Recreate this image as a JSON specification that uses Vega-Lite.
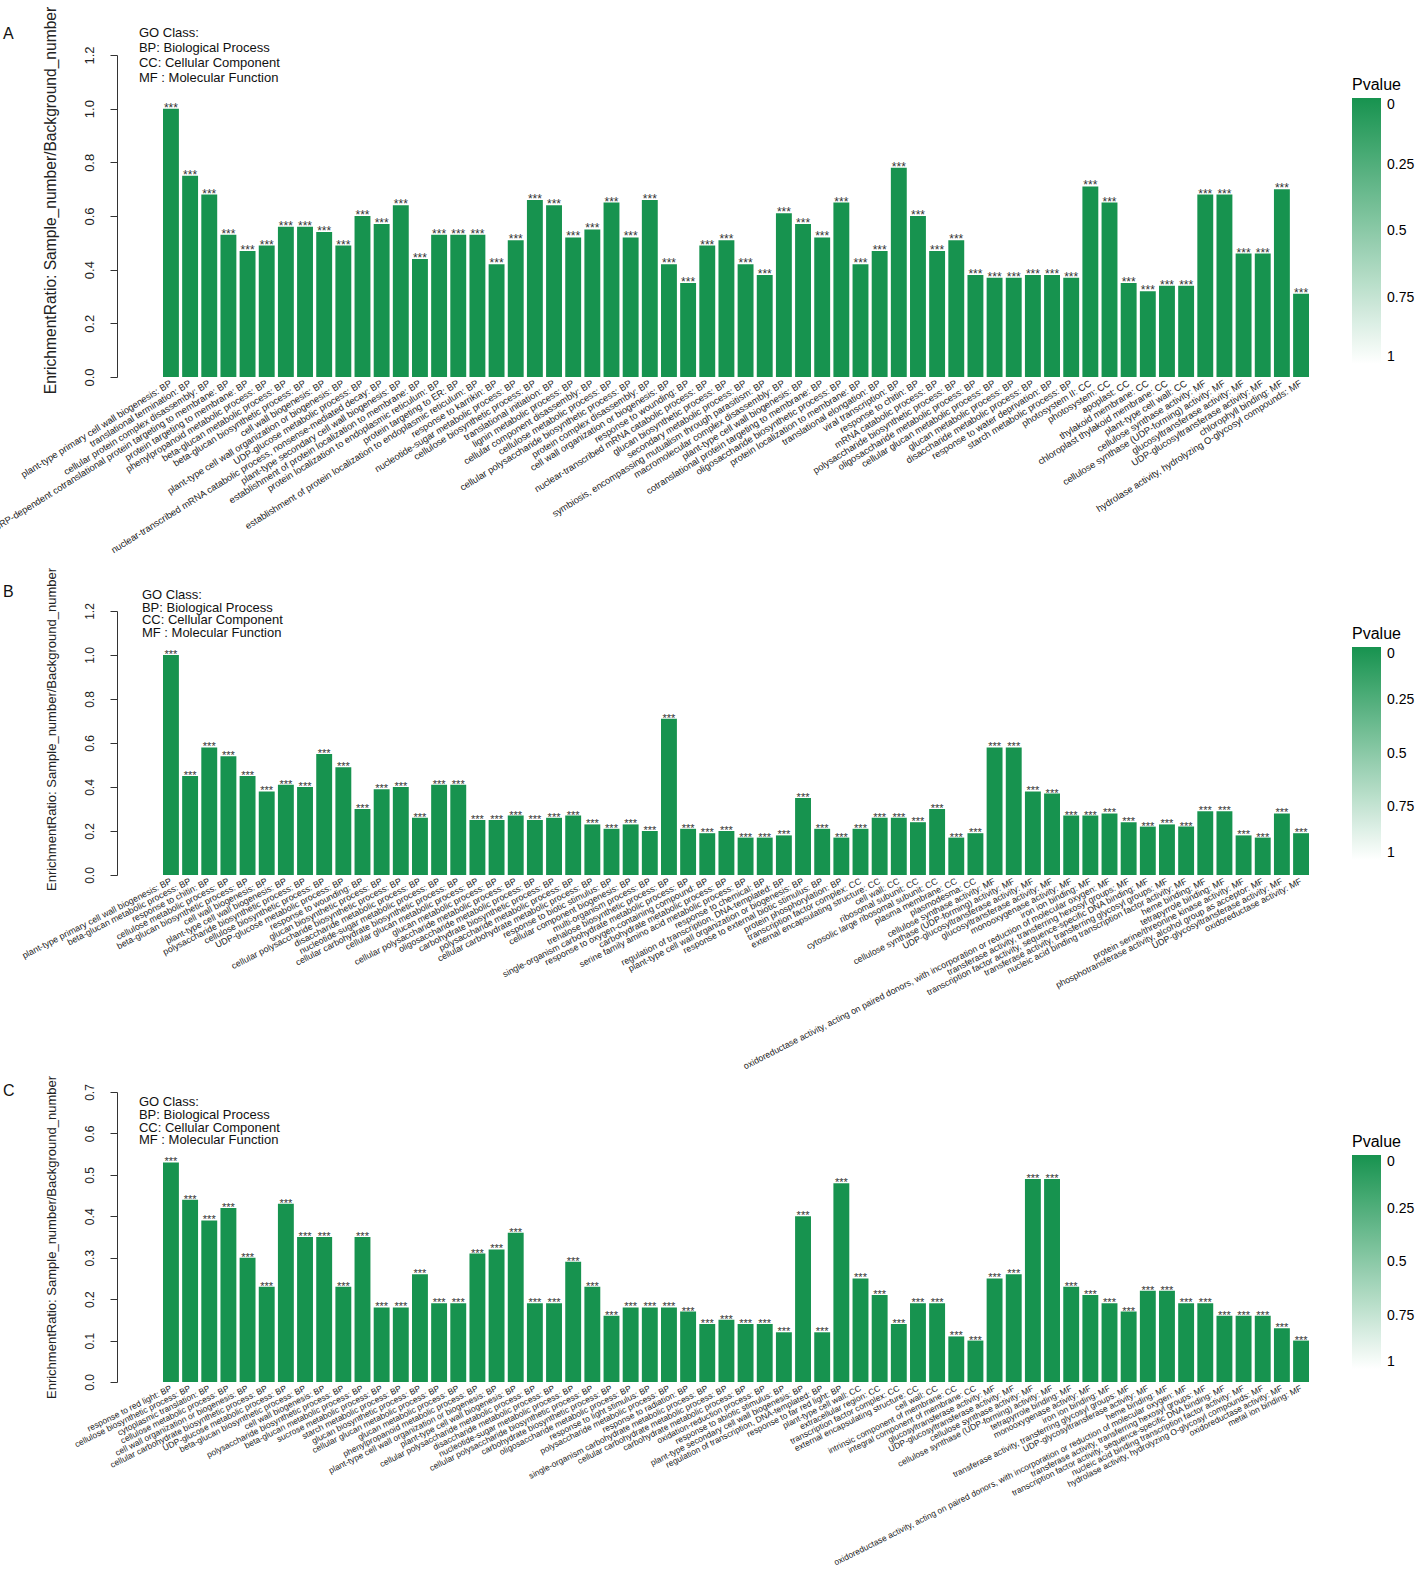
{
  "$schema": "https://vega.github.io/schema/vega-lite/v6.json",
  "background": "white",
  "autosize": {"type": "none"},
  "padding": {"top": 55, "left": 163, "right": 1255, "bottom": 1519},
  "config": {
    "font": "Liberation Sans",
    "view": {"stroke": null},
    "axis": {"grid": false, "labelColor": "#222", "titleColor": "#222", "domainColor": "#333", "tickColor": "#333"},
    "title": {"fontWeight": "normal", "color": "#111"}
  },
  "bounds": "flush",
  "spacing": 217,
  "resolve": {"scale": {"x": "independent", "y": "independent", "color": "independent"}, "legend": {"color": "independent"}},
  "datasets": {
    "A": [
      {"label": "plant-type primary cell wall biogenesis: BP", "ratio": 1.00, "p": 0},
      {"label": "translational termination: BP", "ratio": 0.75, "p": 0},
      {"label": "cellular protein complex disassembly: BP", "ratio": 0.68, "p": 0},
      {"label": "SRP-dependent cotranslational protein targeting to membrane: BP", "ratio": 0.53, "p": 0},
      {"label": "protein targeting to membrane: BP", "ratio": 0.47, "p": 0},
      {"label": "phenylpropanoid metabolic process: BP", "ratio": 0.49, "p": 0},
      {"label": "beta-glucan metabolic process: BP", "ratio": 0.56, "p": 0},
      {"label": "beta-glucan biosynthetic process: BP", "ratio": 0.56, "p": 0},
      {"label": "cell wall biogenesis: BP", "ratio": 0.54, "p": 0},
      {"label": "plant-type cell wall organization or biogenesis: BP", "ratio": 0.49, "p": 0},
      {"label": "UDP-glucose metabolic process: BP", "ratio": 0.60, "p": 0},
      {"label": "nuclear-transcribed mRNA catabolic process, nonsense-mediated decay: BP", "ratio": 0.57, "p": 0},
      {"label": "plant-type secondary cell wall biogenesis: BP", "ratio": 0.64, "p": 0},
      {"label": "establishment of protein localization to membrane: BP", "ratio": 0.44, "p": 0},
      {"label": "protein localization to endoplasmic reticulum: BP", "ratio": 0.53, "p": 0},
      {"label": "protein targeting to ER: BP", "ratio": 0.53, "p": 0},
      {"label": "establishment of protein localization to endoplasmic reticulum: BP", "ratio": 0.53, "p": 0},
      {"label": "response to karrikin: BP", "ratio": 0.42, "p": 0},
      {"label": "nucleotide-sugar metabolic process: BP", "ratio": 0.51, "p": 0},
      {"label": "cellulose biosynthetic process: BP", "ratio": 0.66, "p": 0},
      {"label": "translational initiation: BP", "ratio": 0.64, "p": 0},
      {"label": "lignin metabolic process: BP", "ratio": 0.52, "p": 0},
      {"label": "cellular component disassembly: BP", "ratio": 0.55, "p": 0},
      {"label": "cellulose metabolic process: BP", "ratio": 0.65, "p": 0},
      {"label": "cellular polysaccharide biosynthetic process: BP", "ratio": 0.52, "p": 0},
      {"label": "protein complex disassembly: BP", "ratio": 0.66, "p": 0},
      {"label": "cell wall organization or biogenesis: BP", "ratio": 0.42, "p": 0},
      {"label": "response to wounding: BP", "ratio": 0.35, "p": 0},
      {"label": "nuclear-transcribed mRNA catabolic process: BP", "ratio": 0.49, "p": 0},
      {"label": "glucan biosynthetic process: BP", "ratio": 0.51, "p": 0},
      {"label": "secondary metabolic process: BP", "ratio": 0.42, "p": 0},
      {"label": "symbiosis, encompassing mutualism through parasitism: BP", "ratio": 0.38, "p": 0},
      {"label": "macromolecular complex disassembly: BP", "ratio": 0.61, "p": 0},
      {"label": "plant-type cell wall biogenesis: BP", "ratio": 0.57, "p": 0},
      {"label": "cotranslational protein targeting to membrane: BP", "ratio": 0.52, "p": 0},
      {"label": "oligosaccharide biosynthetic process: BP", "ratio": 0.65, "p": 0},
      {"label": "protein localization to membrane: BP", "ratio": 0.42, "p": 0},
      {"label": "translational elongation: BP", "ratio": 0.47, "p": 0},
      {"label": "viral transcription: BP", "ratio": 0.78, "p": 0},
      {"label": "response to chitin: BP", "ratio": 0.60, "p": 0},
      {"label": "mRNA catabolic process: BP", "ratio": 0.47, "p": 0},
      {"label": "polysaccharide biosynthetic process: BP", "ratio": 0.51, "p": 0},
      {"label": "oligosaccharide metabolic process: BP", "ratio": 0.38, "p": 0},
      {"label": "cellular glucan metabolic process: BP", "ratio": 0.37, "p": 0},
      {"label": "glucan metabolic process: BP", "ratio": 0.37, "p": 0},
      {"label": "disaccharide metabolic process: BP", "ratio": 0.38, "p": 0},
      {"label": "response to water deprivation: BP", "ratio": 0.38, "p": 0},
      {"label": "starch metabolic process: BP", "ratio": 0.37, "p": 0},
      {"label": "photosystem II: CC", "ratio": 0.71, "p": 0},
      {"label": "photosystem: CC", "ratio": 0.65, "p": 0},
      {"label": "apoplast: CC", "ratio": 0.35, "p": 0},
      {"label": "thylakoid membrane: CC", "ratio": 0.32, "p": 0},
      {"label": "chloroplast thylakoid membrane: CC", "ratio": 0.34, "p": 0},
      {"label": "plant-type cell wall: CC", "ratio": 0.34, "p": 0},
      {"label": "cellulose synthase activity: MF", "ratio": 0.68, "p": 0},
      {"label": "cellulose synthase (UDP-forming) activity: MF", "ratio": 0.68, "p": 0},
      {"label": "glucosyltransferase activity: MF", "ratio": 0.46, "p": 0},
      {"label": "UDP-glucosyltransferase activity: MF", "ratio": 0.46, "p": 0},
      {"label": "chlorophyll binding: MF", "ratio": 0.70, "p": 0},
      {"label": "hydrolase activity, hydrolyzing O-glycosyl compounds: MF", "ratio": 0.31, "p": 0}
    ],
    "B": [
      {"label": "plant-type primary cell wall biogenesis: BP", "ratio": 1.00, "p": 0},
      {"label": "beta-glucan metabolic process: BP", "ratio": 0.45, "p": 0},
      {"label": "response to chitin: BP", "ratio": 0.58, "p": 0},
      {"label": "cellulose metabolic process: BP", "ratio": 0.54, "p": 0},
      {"label": "beta-glucan biosynthetic process: BP", "ratio": 0.45, "p": 0},
      {"label": "cell wall biogenesis: BP", "ratio": 0.38, "p": 0},
      {"label": "plant-type cell wall biogenesis: BP", "ratio": 0.41, "p": 0},
      {"label": "polysaccharide biosynthetic process: BP", "ratio": 0.40, "p": 0},
      {"label": "cellulose biosynthetic process: BP", "ratio": 0.55, "p": 0},
      {"label": "UDP-glucose metabolic process: BP", "ratio": 0.49, "p": 0},
      {"label": "response to wounding: BP", "ratio": 0.30, "p": 0},
      {"label": "glucan biosynthetic process: BP", "ratio": 0.39, "p": 0},
      {"label": "cellular polysaccharide biosynthetic process: BP", "ratio": 0.40, "p": 0},
      {"label": "disaccharide metabolic process: BP", "ratio": 0.26, "p": 0},
      {"label": "nucleotide-sugar metabolic process: BP", "ratio": 0.41, "p": 0},
      {"label": "cellular carbohydrate biosynthetic process: BP", "ratio": 0.41, "p": 0},
      {"label": "cellular glucan metabolic process: BP", "ratio": 0.25, "p": 0},
      {"label": "glucan metabolic process: BP", "ratio": 0.25, "p": 0},
      {"label": "cellular polysaccharide metabolic process: BP", "ratio": 0.27, "p": 0},
      {"label": "oligosaccharide metabolic process: BP", "ratio": 0.25, "p": 0},
      {"label": "carbohydrate biosynthetic process: BP", "ratio": 0.26, "p": 0},
      {"label": "polysaccharide metabolic process: BP", "ratio": 0.27, "p": 0},
      {"label": "cellular carbohydrate metabolic process: BP", "ratio": 0.23, "p": 0},
      {"label": "response to biotic stimulus: BP", "ratio": 0.21, "p": 0},
      {"label": "cellular component biogenesis: BP", "ratio": 0.23, "p": 0},
      {"label": "multi-organism process: BP", "ratio": 0.20, "p": 0},
      {"label": "trehalose biosynthetic process: BP", "ratio": 0.71, "p": 0},
      {"label": "single-organism carbohydrate metabolic process: BP", "ratio": 0.21, "p": 0},
      {"label": "response to oxygen-containing compound: BP", "ratio": 0.19, "p": 0},
      {"label": "carbohydrate metabolic process: BP", "ratio": 0.20, "p": 0},
      {"label": "serine family amino acid metabolic process: BP", "ratio": 0.17, "p": 0},
      {"label": "response to chemical: BP", "ratio": 0.17, "p": 0},
      {"label": "regulation of transcription, DNA-templated: BP", "ratio": 0.18, "p": 0},
      {"label": "plant-type cell wall organization or biogenesis: BP", "ratio": 0.35, "p": 0},
      {"label": "response to external biotic stimulus: BP", "ratio": 0.21, "p": 0},
      {"label": "protein phosphorylation: BP", "ratio": 0.17, "p": 0},
      {"label": "transcription factor complex: CC", "ratio": 0.21, "p": 0},
      {"label": "external encapsulating structure: CC", "ratio": 0.26, "p": 0},
      {"label": "cell wall: CC", "ratio": 0.26, "p": 0},
      {"label": "ribosomal subunit: CC", "ratio": 0.24, "p": 0},
      {"label": "cytosolic large ribosomal subunit: CC", "ratio": 0.30, "p": 0},
      {"label": "plasma membrane: CC", "ratio": 0.17, "p": 0},
      {"label": "plasmodesma: CC", "ratio": 0.19, "p": 0},
      {"label": "cellulose synthase activity: MF", "ratio": 0.58, "p": 0},
      {"label": "cellulose synthase (UDP-forming) activity: MF", "ratio": 0.58, "p": 0},
      {"label": "UDP-glucosyltransferase activity: MF", "ratio": 0.38, "p": 0},
      {"label": "glucosyltransferase activity: MF", "ratio": 0.37, "p": 0},
      {"label": "monooxygenase activity: MF", "ratio": 0.27, "p": 0},
      {"label": "iron ion binding: MF", "ratio": 0.27, "p": 0},
      {"label": "oxidoreductase activity, acting on paired donors, with incorporation or reduction of molecular oxygen: MF", "ratio": 0.28, "p": 0},
      {"label": "transferase activity, transferring hexosyl groups: MF", "ratio": 0.24, "p": 0},
      {"label": "transcription factor activity, sequence-specific DNA binding: MF", "ratio": 0.22, "p": 0},
      {"label": "transferase activity, transferring glycosyl groups: MF", "ratio": 0.23, "p": 0},
      {"label": "nucleic acid binding transcription factor activity: MF", "ratio": 0.22, "p": 0},
      {"label": "heme binding: MF", "ratio": 0.29, "p": 0},
      {"label": "tetrapyrrole binding: MF", "ratio": 0.29, "p": 0},
      {"label": "protein serine/threonine kinase activity: MF", "ratio": 0.18, "p": 0},
      {"label": "phosphotransferase activity, alcohol group as acceptor: MF", "ratio": 0.17, "p": 0},
      {"label": "UDP-glycosyltransferase activity: MF", "ratio": 0.28, "p": 0},
      {"label": "oxidoreductase activity: MF", "ratio": 0.19, "p": 0}
    ],
    "C": [
      {"label": "response to red light: BP", "ratio": 0.53, "p": 0},
      {"label": "cellulose biosynthetic process: BP", "ratio": 0.44, "p": 0},
      {"label": "cytoplasmic translation: BP", "ratio": 0.39, "p": 0},
      {"label": "cellulose metabolic process: BP", "ratio": 0.42, "p": 0},
      {"label": "cell wall organization or biogenesis: BP", "ratio": 0.30, "p": 0},
      {"label": "cellular carbohydrate biosynthetic process: BP", "ratio": 0.23, "p": 0},
      {"label": "UDP-glucose metabolic process: BP", "ratio": 0.43, "p": 0},
      {"label": "beta-glucan biosynthetic process: BP", "ratio": 0.35, "p": 0},
      {"label": "cell wall biogenesis: BP", "ratio": 0.35, "p": 0},
      {"label": "polysaccharide biosynthetic process: BP", "ratio": 0.23, "p": 0},
      {"label": "beta-glucan metabolic process: BP", "ratio": 0.35, "p": 0},
      {"label": "sucrose metabolic process: BP", "ratio": 0.18, "p": 0},
      {"label": "starch metabolic process: BP", "ratio": 0.18, "p": 0},
      {"label": "glucan biosynthetic process: BP", "ratio": 0.26, "p": 0},
      {"label": "cellular glucan metabolic process: BP", "ratio": 0.19, "p": 0},
      {"label": "glucan metabolic process: BP", "ratio": 0.19, "p": 0},
      {"label": "phenylpropanoid metabolic process: BP", "ratio": 0.31, "p": 0},
      {"label": "plant-type cell wall organization or biogenesis: BP", "ratio": 0.32, "p": 0},
      {"label": "plant-type cell wall biogenesis: BP", "ratio": 0.36, "p": 0},
      {"label": "cellular polysaccharide metabolic process: BP", "ratio": 0.19, "p": 0},
      {"label": "disaccharide metabolic process: BP", "ratio": 0.19, "p": 0},
      {"label": "nucleotide-sugar metabolic process: BP", "ratio": 0.29, "p": 0},
      {"label": "cellular polysaccharide biosynthetic process: BP", "ratio": 0.23, "p": 0},
      {"label": "carbohydrate biosynthetic process: BP", "ratio": 0.16, "p": 0},
      {"label": "oligosaccharide metabolic process: BP", "ratio": 0.18, "p": 0},
      {"label": "response to light stimulus: BP", "ratio": 0.18, "p": 0},
      {"label": "polysaccharide metabolic process: BP", "ratio": 0.18, "p": 0},
      {"label": "response to radiation: BP", "ratio": 0.17, "p": 0},
      {"label": "single-organism carbohydrate metabolic process: BP", "ratio": 0.14, "p": 0},
      {"label": "cellular carbohydrate metabolic process: BP", "ratio": 0.15, "p": 0},
      {"label": "carbohydrate metabolic process: BP", "ratio": 0.14, "p": 0},
      {"label": "oxidation-reduction process: BP", "ratio": 0.14, "p": 0},
      {"label": "response to abiotic stimulus: BP", "ratio": 0.12, "p": 0},
      {"label": "plant-type secondary cell wall biogenesis: BP", "ratio": 0.40, "p": 0},
      {"label": "regulation of transcription, DNA-templated: BP", "ratio": 0.12, "p": 0},
      {"label": "response to far red light: BP", "ratio": 0.48, "p": 0},
      {"label": "plant-type cell wall: CC", "ratio": 0.25, "p": 0},
      {"label": "extracellular region: CC", "ratio": 0.21, "p": 0},
      {"label": "transcription factor complex: CC", "ratio": 0.14, "p": 0},
      {"label": "external encapsulating structure: CC", "ratio": 0.19, "p": 0},
      {"label": "cell wall: CC", "ratio": 0.19, "p": 0},
      {"label": "intrinsic component of membrane: CC", "ratio": 0.11, "p": 0},
      {"label": "integral component of membrane: CC", "ratio": 0.10, "p": 0},
      {"label": "glucosyltransferase activity: MF", "ratio": 0.25, "p": 0},
      {"label": "UDP-glucosyltransferase activity: MF", "ratio": 0.26, "p": 0},
      {"label": "cellulose synthase activity: MF", "ratio": 0.49, "p": 0},
      {"label": "cellulose synthase (UDP-forming) activity: MF", "ratio": 0.49, "p": 0},
      {"label": "tetrapyrrole binding: MF", "ratio": 0.23, "p": 0},
      {"label": "monooxygenase activity: MF", "ratio": 0.21, "p": 0},
      {"label": "iron ion binding: MF", "ratio": 0.19, "p": 0},
      {"label": "transferase activity, transferring glycosyl groups: MF", "ratio": 0.17, "p": 0},
      {"label": "UDP-glycosyltransferase activity: MF", "ratio": 0.22, "p": 0},
      {"label": "heme binding: MF", "ratio": 0.22, "p": 0},
      {"label": "oxidoreductase activity, acting on paired donors, with incorporation or reduction of molecular oxygen: MF", "ratio": 0.19, "p": 0},
      {"label": "transferase activity, transferring hexosyl groups: MF", "ratio": 0.19, "p": 0},
      {"label": "transcription factor activity, sequence-specific DNA binding: MF", "ratio": 0.16, "p": 0},
      {"label": "nucleic acid binding transcription factor activity: MF", "ratio": 0.16, "p": 0},
      {"label": "hydrolase activity, hydrolyzing O-glycosyl compounds: MF", "ratio": 0.16, "p": 0},
      {"label": "oxidoreductase activity: MF", "ratio": 0.13, "p": 0},
      {"label": "metal ion binding: MF", "ratio": 0.10, "p": 0}
    ],
    "go": [{"t": "GO Class:\nBP: Biological Process\nCC: Cellular Component\nMF : Molecular Function"}]
  },
  "vconcat": [
    {
      "width": 1146, "height": 322,
      "title": {"text": "A", "anchor": "start", "frame": "group", "dx": -160, "offset": -36, "fontSize": 16},
      "data": {"name": "A"},
      "layer": [
        {
          "mark": {"type": "bar"},
          "encoding": {
            "x": {"field": "label", "type": "nominal", "sort": null, "scale": {"paddingInner": 0.17, "paddingOuter": 0},
                  "axis": {"title": null, "domain": false, "ticks": false, "labelAngle": -32, "labelAlign": "right", "labelBaseline": "middle", "labelFontSize": 9.4, "labelPadding": 5, "labelLimit": 0, "labelOverlap": false}},
            "y": {"field": "ratio", "type": "quantitative", "scale": {"domain": [0, 1.2], "nice": false},
                  "axis": {"title": "EnrichmentRatio: Sample_number/Background_number", "titleFontSize": 15.6, "titleFontWeight": "normal", "titlePadding": 25, "titleY": 145,
                           "values": [0, 0.2, 0.4, 0.6, 0.8, 1.0, 1.2], "tickCount": 20, "format": ".1f", "labelAngle": -90, "labelAlign": "center", "labelBaseline": "bottom", "labelFontSize": 13, "labelPadding": 14, "labelOverlap": false, "tickSize": 7, "offset": 46}},
            "color": {"field": "p", "type": "quantitative", "scale": {"domain": [1, 0], "range": ["#ffffff", "#17934f"], "interpolate": "rgb"},
                      "legend": {"title": "Pvalue", "orient": "none", "legendX": 1189, "legendY": 22, "direction": "vertical", "gradientLength": 266, "gradientThickness": 29,
                                 "values": [0, 0.25, 0.5, 0.75, 1], "labelExpr": "'' + datum.value", "labelFontSize": 14, "titleFontSize": 16, "titleFontWeight": "normal", "labelOffset": 6, "gradientStrokeWidth": 0, "titlePadding": 5}}
          }
        },
        {
          "mark": {"type": "text", "text": "***", "baseline": "alphabetic", "dy": 3, "fontSize": 12, "color": "#333"},
          "encoding": {"x": {"field": "label", "type": "nominal", "sort": null}, "y": {"field": "ratio", "type": "quantitative"}}
        },
        {
          "data": {"name": "go"},
          "mark": {"type": "text", "lineBreak": "\n", "align": "left", "baseline": "top", "fontSize": 13, "lineHeight": 15, "dx": -32, "color": "#111"},
          "encoding": {"text": {"field": "t"}, "x": {"datum": "plant-type primary cell wall biogenesis: BP"}, "y": {"datum": 1.305}}
        }
      ]
    },
    {
      "width": 1146, "height": 281,
      "title": {"text": "B", "anchor": "start", "frame": "group", "dx": -160, "offset": -33, "fontSize": 16},
      "data": {"name": "B"},
      "layer": [
        {
          "mark": {"type": "bar"},
          "encoding": {
            "x": {"field": "label", "type": "nominal", "sort": null, "scale": {"paddingInner": 0.17, "paddingOuter": 0},
                  "axis": {"title": null, "domain": false, "ticks": false, "labelAngle": -27, "labelAlign": "right", "labelBaseline": "middle", "labelFontSize": 8.9, "labelPadding": 5, "labelLimit": 0, "labelOverlap": false}},
            "y": {"field": "ratio", "type": "quantitative", "scale": {"domain": [0, 1.2], "nice": false, "range": [281, 17]},
                  "axis": {"title": "EnrichmentRatio: Sample_number/Background_number", "titleFontSize": 13, "titleFontWeight": "normal", "titlePadding": 25, "titleY": 135,
                           "values": [0, 0.2, 0.4, 0.6, 0.8, 1.0, 1.2], "tickCount": 20, "format": ".1f", "labelAngle": -90, "labelAlign": "center", "labelBaseline": "bottom", "labelFontSize": 12, "labelPadding": 14, "labelOverlap": false, "tickSize": 7, "offset": 46}},
            "color": {"field": "p", "type": "quantitative", "scale": {"domain": [1, 0], "range": ["#ffffff", "#17934f"], "interpolate": "rgb"},
                      "legend": {"title": "Pvalue", "orient": "none", "legendX": 1189, "legendY": 32, "direction": "vertical", "gradientLength": 213, "gradientThickness": 29,
                                 "values": [0, 0.25, 0.5, 0.75, 1], "labelExpr": "'' + datum.value", "labelFontSize": 14, "titleFontSize": 16, "titleFontWeight": "normal", "labelOffset": 6, "gradientStrokeWidth": 0, "titlePadding": 5}}
          }
        },
        {
          "mark": {"type": "text", "text": "***", "baseline": "alphabetic", "dy": 3, "fontSize": 11, "color": "#333"},
          "encoding": {"x": {"field": "label", "type": "nominal", "sort": null}, "y": {"field": "ratio", "type": "quantitative"}}
        },
        {
          "data": {"name": "go"},
          "mark": {"type": "text", "lineBreak": "\n", "align": "left", "baseline": "top", "fontSize": 13, "lineHeight": 12.7, "dx": -29, "color": "#111"},
          "encoding": {"text": {"field": "t"}, "x": {"datum": "plant-type primary cell wall biogenesis: BP"}, "y": {"datum": 1.3}}
        }
      ]
    },
    {
      "width": 1146, "height": 290,
      "title": {"text": "C", "anchor": "start", "frame": "group", "dx": -160, "offset": -24, "fontSize": 16},
      "data": {"name": "C"},
      "layer": [
        {
          "mark": {"type": "bar"},
          "encoding": {
            "x": {"field": "label", "type": "nominal", "sort": null, "scale": {"paddingInner": 0.17, "paddingOuter": 0},
                  "axis": {"title": null, "domain": false, "ticks": false, "labelAngle": -26.5, "labelAlign": "right", "labelBaseline": "middle", "labelFontSize": 8.5, "labelPadding": 5, "labelLimit": 0, "labelOverlap": false}},
            "y": {"field": "ratio", "type": "quantitative", "scale": {"domain": [0, 0.7], "nice": false},
                  "axis": {"title": "EnrichmentRatio: Sample_number/Background_number", "titleFontSize": 13, "titleFontWeight": "normal", "titlePadding": 25, "titleY": 145,
                           "values": [0, 0.1, 0.2, 0.3, 0.4, 0.5, 0.6, 0.7], "tickCount": 20, "format": ".1f", "labelAngle": -90, "labelAlign": "center", "labelBaseline": "bottom", "labelFontSize": 12, "labelPadding": 14, "labelOverlap": false, "tickSize": 7, "offset": 46}},
            "color": {"field": "p", "type": "quantitative", "scale": {"domain": [1, 0], "range": ["#ffffff", "#17934f"], "interpolate": "rgb"},
                      "legend": {"title": "Pvalue", "orient": "none", "legendX": 1189, "legendY": 42, "direction": "vertical", "gradientLength": 214, "gradientThickness": 29,
                                 "values": [0, 0.25, 0.5, 0.75, 1], "labelExpr": "'' + datum.value", "labelFontSize": 14, "titleFontSize": 16, "titleFontWeight": "normal", "labelOffset": 6, "gradientStrokeWidth": 0, "titlePadding": 5}}
          }
        },
        {
          "mark": {"type": "text", "text": "***", "baseline": "alphabetic", "dy": 3, "fontSize": 11, "color": "#333"},
          "encoding": {"x": {"field": "label", "type": "nominal", "sort": null}, "y": {"field": "ratio", "type": "quantitative"}}
        },
        {
          "data": {"name": "go"},
          "mark": {"type": "text", "lineBreak": "\n", "align": "left", "baseline": "top", "fontSize": 13, "lineHeight": 12.7, "dx": -32, "color": "#111"},
          "encoding": {"text": {"field": "t"}, "x": {"datum": "response to red light: BP"}, "y": {"datum": 0.69}}
        }
      ]
    }
  ]
}
